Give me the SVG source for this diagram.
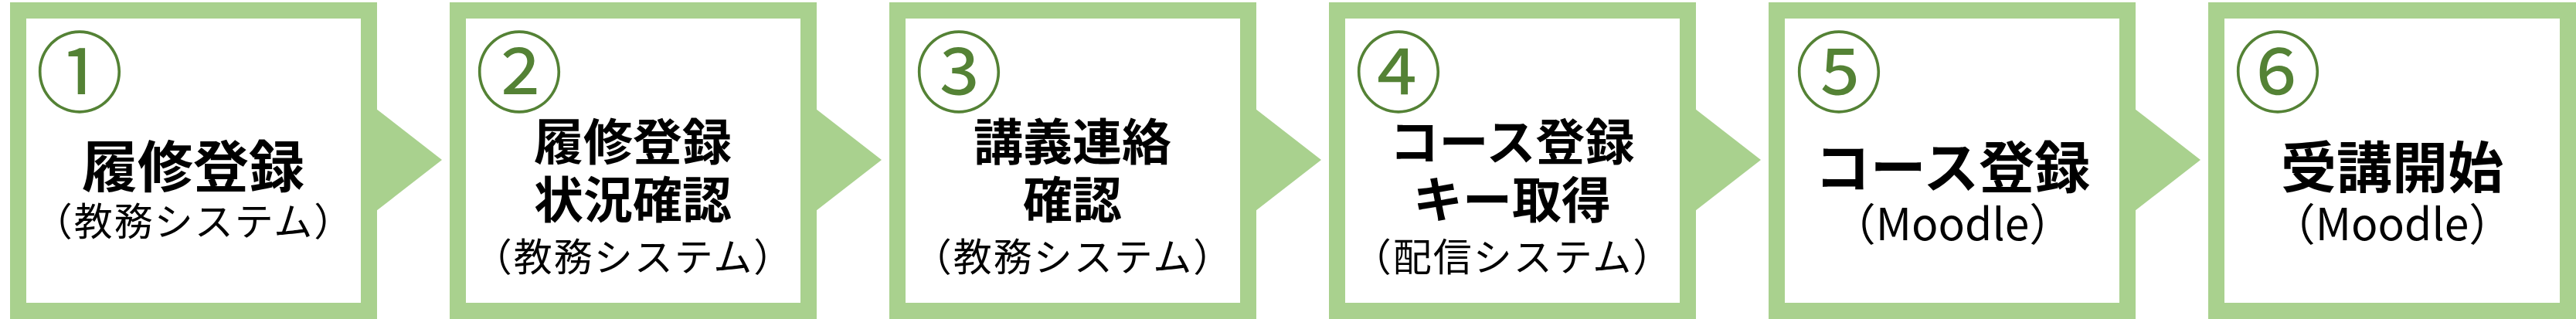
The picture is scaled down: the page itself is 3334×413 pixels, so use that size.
<svg xmlns="http://www.w3.org/2000/svg" width="3334" height="413" viewBox="0 0 3334 413">
<style>
.box{fill:#ffffff;stroke:#A9D18E;stroke-width:21}
.arrow{fill:#A9D18E}
.num{font-family:"Noto Sans CJK JP","Noto Sans",sans-serif;font-size:114px;fill:#548235;text-anchor:middle}
.t1{font-family:"Noto Sans CJK JP",sans-serif;font-size:72px;font-weight:bold;fill:#000;text-anchor:middle}
.t2{font-family:"Noto Sans CJK JP",sans-serif;font-size:64px;font-weight:bold;fill:#000;text-anchor:middle}
.sub{font-family:"Noto Sans CJK JP",sans-serif;font-size:50px;letter-spacing:2px;fill:#000;text-anchor:middle}
.subm{font-family:"Noto Sans CJK JP",sans-serif;font-size:57px;fill:#000;text-anchor:middle}
</style>
<rect x="0" y="0" width="3334" height="413" fill="#ffffff"/>
<g id="connectors">
<polygon class="arrow" points="478,134 572,207 478,280"/>
<polygon class="arrow" points="1047,134 1141,207 1047,280"/>
<polygon class="arrow" points="1616,134 1710,207 1616,280"/>
<polygon class="arrow" points="2185,134 2279,207 2185,280"/>
<polygon class="arrow" points="2754,134 2848,207 2754,280"/>
</g>
<g id="node1">
<rect class="box" x="23.5" y="13.5" width="454" height="389"/>
<text class="num" x="103" y="136">①</text>
<text class="t1" x="250" y="242">履修登録</text>
<text class="sub" x="251" y="305">（教務システム）</text>
</g>
<g id="node2">
<rect class="box" x="592.5" y="13.5" width="454" height="389"/>
<text class="num" x="672" y="136">②</text>
<text class="t2" x="819" y="207">履修登録</text>
<text class="t2" x="819" y="282">状況確認</text>
<text class="sub" x="820" y="351">（教務システム）</text>
</g>
<g id="node3">
<rect class="box" x="1161.5" y="13.5" width="454" height="389"/>
<text class="num" x="1241" y="136">③</text>
<text class="t2" x="1388" y="207">講義連絡</text>
<text class="t2" x="1388" y="282">確認</text>
<text class="sub" x="1389" y="351">（教務システム）</text>
</g>
<g id="node4">
<rect class="box" x="1730.5" y="13.5" width="454" height="389"/>
<text class="num" x="1810" y="136">④</text>
<text class="t2" x="1957" y="207">コース登録</text>
<text class="t2" x="1957" y="282">キー取得</text>
<text class="sub" x="1958" y="351">（配信システム）</text>
</g>
<g id="node5">
<rect class="box" x="2299.5" y="13.5" width="454" height="389"/>
<text class="num" x="2380" y="136">⑤</text>
<text class="t1" x="2527" y="243">コース登録</text>
<text class="subm" x="2527" y="311">（Moodle）</text>
</g>
<g id="node6">
<rect class="box" x="2868.5" y="13.5" width="455" height="389"/>
<text class="num" x="2948" y="136">⑥</text>
<text class="t1" x="3096" y="243">受講開始</text>
<text class="subm" x="3096" y="311">（Moodle）</text>
</g>
</svg>
